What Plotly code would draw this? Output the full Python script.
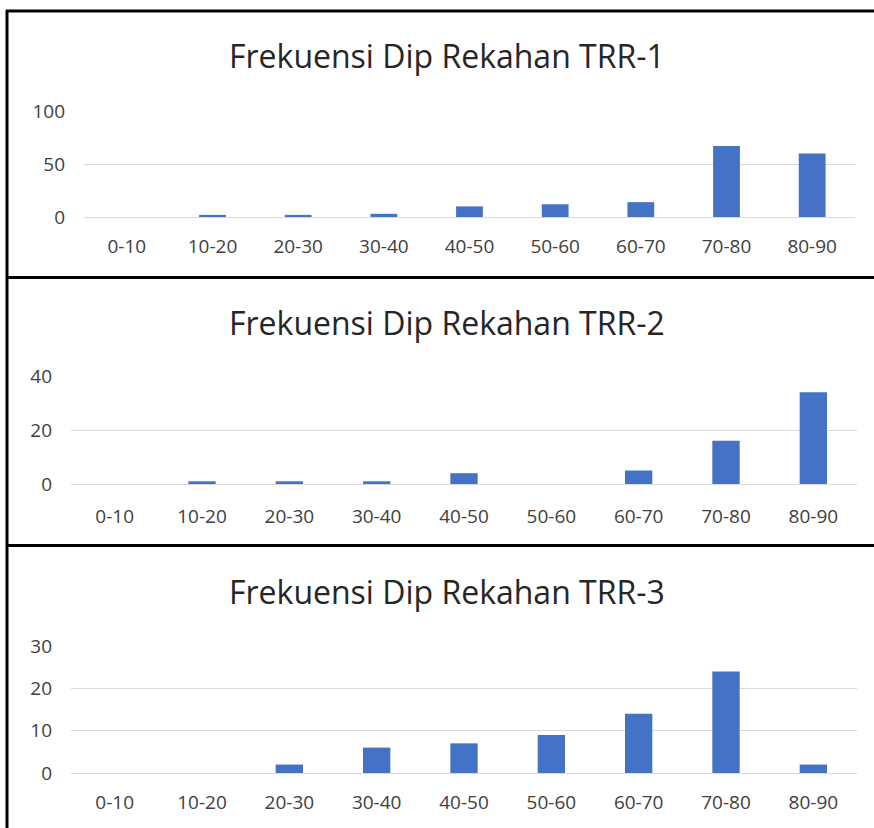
import plotly.graph_objects as go

W, H = 874, 828

categories = ['0-10', '10-20', '20-30', '30-40', '40-50', '50-60', '60-70', '70-80', '80-90']
trr1 = [0, 2, 2, 3, 10, 12, 14, 67, 60]
trr2 = [0, 1, 1, 1, 4, 0, 5, 16, 34]
trr3 = [0, 0, 2, 6, 7, 9, 14, 24, 2]
titles = ['Frekuensi Dip Rekahan TRR-1', 'Frekuensi Dip Rekahan TRR-2', 'Frekuensi Dip Rekahan TRR-3']
y_max = [100, 40, 30]
y_step = [50, 20, 10]

FONT = 'Open Sans'
BAR = '#4472C4'
GRID = '#d9d9d9'


def px_x(v):
    return v / W


def px_y(v):
    return 1 - v / H


# panel layout in pixels: (left, right, top gridline, zero line, title centre, x label gap)
panels = [
    (84, 855, 111, 217, 56, 16),
    (71, 857, 376, 484, 323, 19),
    (71, 857, 646, 773, 591, 16),
]

fig = go.Figure()
for i, (vals, (l, r, t, b, ty, gap)) in enumerate(zip([trr1, trr2, trr3], panels)):
    n = '' if i == 0 else str(i + 1)
    fig.add_trace(go.Bar(x=categories, y=vals, marker_color=BAR, marker_line_width=0,
                         xaxis='x' + n, yaxis='y' + n, showlegend=False))
    fig.layout['xaxis' + n] = dict(
        domain=[px_x(l), px_x(r)], anchor='y' + n, showgrid=False, showline=False,
        ticks='', ticklabelstandoff=gap, tickfont=dict(family=FONT, size=19, color='#404040'),
        fixedrange=True)
    fig.layout['yaxis' + n] = dict(
        domain=[px_y(b), px_y(t)], anchor='x' + n, range=[0, y_max[i]], dtick=y_step[i],
        showgrid=True, gridcolor=GRID, gridwidth=1, zeroline=True, zerolinecolor=GRID,
        zerolinewidth=1, showline=False, ticks='', ticklabelstandoff=18,
        tickfont=dict(family=FONT, size=19, color='#404040'), fixedrange=True)
    fig.add_annotation(text=titles[i], x=0.511, y=px_y(ty), xref='paper', yref='paper',
                       showarrow=False, xanchor='center', yanchor='middle',
                       font=dict(family=FONT, size=32, color='#262626'))

# black frame lines around the three panels
for yy in [11, 277.5, 545.5]:
    fig.add_shape(type='line', xref='paper', yref='paper', x0=px_x(6), x1=1, y0=px_y(yy), y1=px_y(yy),
                  line=dict(color='black', width=3))
fig.add_shape(type='line', xref='paper', yref='paper', x0=px_x(7), x1=px_x(7), y0=px_y(10), y1=0,
              line=dict(color='black', width=3))

fig.update_layout(
    width=W, height=H,
    margin=dict(l=0, r=0, t=0, b=0, autoexpand=False),
    paper_bgcolor='white', plot_bgcolor='white',
    bargap=0.687,
)

# drop the default page margin so the figure sits at the window corner
fig.write_html("out.html", config={'displayModeBar': False},
               post_script="document.body.style.margin='0';")
